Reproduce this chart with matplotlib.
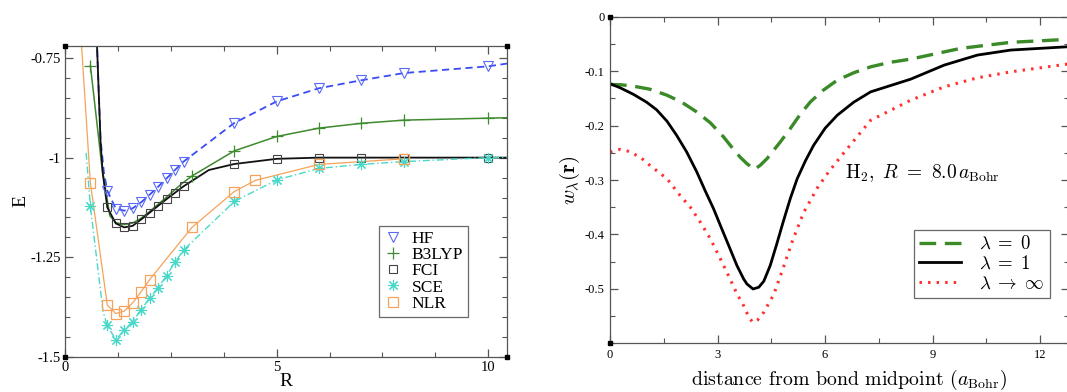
import numpy as np
import matplotlib
matplotlib.use("Agg")
import matplotlib.pyplot as plt
from matplotlib.ticker import MultipleLocator, FormatStrFormatter

plt.rcParams["font.family"] = ["Liberation Serif", "DejaVu Serif"]
plt.rcParams["mathtext.fontset"] = "cm"
plt.rcParams["axes.unicode_minus"] = False

# ---- left panel: dissociation curves of H2 ----
r_hf = [1.0, 1.2, 1.4, 1.6, 1.8, 2.0, 2.2, 2.4, 2.6, 2.8, 4, 5, 6, 7, 8, 10]
e_hf = [-1.083, -1.128, -1.133, -1.127, -1.112, -1.093, -1.073, -1.052, -1.031, -1.010,
        -0.913, -0.859, -0.826, -0.806, -0.788, -0.771]
r_hf_extra = [0.75, 0.84, 0.92, 10.45]
e_hf_extra = [-0.70, -0.954, -1.0375, -0.764]

r_b3 = [0.6, 3, 4, 5, 6, 7, 8, 10]
e_b3 = [-0.769, -1.046, -0.983, -0.947, -0.926, -0.914, -0.906, -0.901]
r_b3_extra = [0.87, 1.06, 1.2, 1.4, 1.6, 1.8, 2.0, 2.2, 2.4, 2.6, 2.8, 10.45]
e_b3_extra = [-1.021, -1.146, -1.163, -1.168, -1.164, -1.152, -1.135, -1.117, -1.099,
              -1.080, -1.062, -0.900]

r_fci = [1.0, 1.2, 1.4, 1.6, 1.8, 2.0, 2.2, 2.4, 2.6, 2.8, 4, 5, 6, 7, 8, 10]
e_fci = [-1.125, -1.165, -1.175, -1.171, -1.155, -1.138, -1.121, -1.104, -1.088, -1.072,
         -1.016, -1.003, -1.000, -1.000, -1.000, -1.000]
r_fci_extra = [0.75, 0.84, 0.89, 3.4, 10.45]
e_fci_extra = [-0.70, -0.96, -1.0375, -1.031, -1.000]

r_sce = [0.6, 1.0, 1.2, 1.4, 1.6, 1.8, 2.0, 2.2, 2.4, 2.6, 2.8, 4, 5, 6, 7, 8, 10]
e_sce = [-1.122, -1.421, -1.457, -1.432, -1.411, -1.381, -1.352, -1.326, -1.296, -1.262,
         -1.232, -1.110, -1.056, -1.027, -1.017, -1.010, -1.000]
r_sce_extra = [0.5, 0.79, 0.9, 10.45]
e_sce_extra = [-0.988, -1.29, -1.387, -0.999]

r_nlr = [0.6, 1.0, 1.2, 1.4, 1.6, 1.8, 2.0, 3.0, 4.0, 4.5, 6.0, 8.0]
e_nlr = [-1.063, -1.370, -1.391, -1.385, -1.364, -1.336, -1.306, -1.175, -1.085, -1.057,
         -1.017, -1.003]
r_nlr_extra = [0.38]
e_nlr_extra = [-0.70]

# ---- right panel: w_lambda(r) along the bond, R = 8 ----
x_l0 = [0, 0.3, 0.65, 1.1, 1.59, 2.0, 2.42, 2.8, 3.17, 3.4, 3.63, 3.82, 4.03, 4.19, 4.38,
        4.57, 4.75, 5.03, 5.3, 5.59, 5.95, 6.34, 6.8, 7.27, 7.8, 8.39, 9.78, 11.18, 12.77]
w_l0 = [-0.1245, -0.125, -0.1276, -0.133, -0.1442, -0.157, -0.175, -0.195, -0.221, -0.240,
        -0.258, -0.270, -0.2805, -0.273, -0.2608, -0.245, -0.2302, -0.2055, -0.180, -0.1565,
        -0.135, -0.1166, -0.103, -0.0921, -0.084, -0.0779, -0.0582, -0.0471, -0.0416]

x_l1 = [0, 0.28, 0.65, 1.02, 1.3, 1.59, 1.86, 2.14, 2.42, 2.65, 2.89, 3.12, 3.35, 3.54,
        3.73, 3.82, 3.99, 4.15, 4.29, 4.47, 4.65, 4.84, 5.03, 5.22, 5.45, 5.68, 6.0, 6.34,
        6.8, 7.27, 8.39, 9.32, 10.25, 11.18, 12.77]
w_l1 = [-0.123, -0.1305, -0.1425, -0.157, -0.171, -0.192, -0.218, -0.2486, -0.285, -0.319,
        -0.353, -0.390, -0.4265, -0.457, -0.482, -0.491, -0.5002, -0.497, -0.486, -0.457,
        -0.418, -0.375, -0.334, -0.298, -0.265, -0.2363, -0.205, -0.181, -0.157, -0.1381,
        -0.1147, -0.089, -0.0705, -0.0613, -0.0552]

x_inf = [0, 0.28, 0.5, 0.84, 1.11, 1.59, 1.95, 2.24, 2.52, 2.8, 3.08, 3.35, 3.54, 3.73,
         3.88, 3.99, 4.12, 4.29, 4.57, 4.84, 5.1, 5.4, 5.78, 6.1, 6.5, 7.27, 8.39, 9.32,
         10.25, 11.18, 12.77]
w_inf = [-0.2486, -0.2437, -0.247, -0.2578, -0.273, -0.2976, -0.328, -0.3499, -0.3775,
         -0.408, -0.445, -0.4818, -0.509, -0.531, -0.553, -0.5617, -0.557, -0.543, -0.51,
         -0.46, -0.41, -0.36, -0.315, -0.285, -0.252, -0.1903, -0.1534, -0.1289, -0.1123,
         -0.1013, -0.087]

grey = "#555555"


def merged(r, e, r_extra, e_extra):
    rr = np.array(list(r) + list(r_extra))
    ee = np.array(list(e) + list(e_extra))
    idx = np.argsort(rr)
    return rr[idx], ee[idx]


def style_axes(ax):
    for s in ax.spines.values():
        s.set_color(grey)
        s.set_linewidth(0.9)
    ax.tick_params(which="both", direction="in", top=True, right=True, color=grey)
    ax.tick_params(which="major", length=6, width=0.9)
    ax.tick_params(which="minor", length=3.5, width=0.8)


def corner_marks(ax, corners):
    for cx, cy in corners:
        ax.plot(cx, cy, marker="s", ms=3.5, color="black", transform=ax.transAxes,
                clip_on=False, zorder=10)


fig = plt.figure(figsize=(10.67, 3.92), dpi=100)

# ---------- left ----------
ax1 = fig.add_axes([0.0609, 0.0893, 0.4146, 0.7934])
c_hf, c_b3, c_fci, c_sce, c_nlr = "#3a4cf5", "#3e8a2e", "#111111", "#48d8c8", "#f5a35a"

x, y = merged(r_hf, e_hf, r_hf_extra, e_hf_extra)
ax1.plot(x, y, color=c_hf, lw=1.3, ls=(0, (4, 2.5)))
x, y = merged(r_b3, e_b3, r_b3_extra, e_b3_extra)
ax1.plot(x, y, color=c_b3, lw=1.1)
x, y = merged(r_fci, e_fci, r_fci_extra, e_fci_extra)
ax1.plot(x, y, color=c_fci, lw=1.3)
x, y = merged(r_sce, e_sce, r_sce_extra, e_sce_extra)
ax1.plot(x, y, color=c_sce, lw=1.0, ls=(0, (5, 2, 1, 2)))
x, y = merged(r_nlr, e_nlr, r_nlr_extra, e_nlr_extra)
ax1.plot(x, y, color=c_nlr, lw=0.9)

ax1.plot(r_hf, e_hf, ls="none", marker="v", ms=7, mfc="none", mec="#5a6af5", mew=0.8, label="HF")
ax1.plot(r_b3, e_b3, ls="none", marker="+", ms=8, mec=c_b3, mew=0.9, label="B3LYP")
ax1.plot(r_fci, e_fci, ls="none", marker="s", ms=6, mfc="none", mec="#444444", mew=0.8, label="FCI")
ax1.plot(r_sce, e_sce, ls="none", marker=(8, 2, 0), ms=8, mec=c_sce, mew=0.8, label="SCE")
ax1.plot(r_nlr, e_nlr, ls="none", marker="s", ms=7, mfc="none", mec=c_nlr, mew=0.9, label="NLR")

ax1.set_xlim(0, 10.45)
ax1.set_ylim(-1.5, -0.72)
ax1.xaxis.set_major_locator(MultipleLocator(5))
ax1.xaxis.set_minor_locator(MultipleLocator(1.25))
ax1.yaxis.set_major_locator(MultipleLocator(0.25))
ax1.yaxis.set_minor_locator(MultipleLocator(0.05))
ax1.xaxis.set_major_formatter(FormatStrFormatter("%g"))
ax1.yaxis.set_major_formatter(FormatStrFormatter("%g"))
style_axes(ax1)
ax1.tick_params(labelsize=10.5, pad=3)
ax1.set_xlabel("R", fontsize=14, labelpad=-1)
ax1.set_ylabel("E", fontsize=14, labelpad=1)
leg = ax1.legend(loc="lower right", bbox_to_anchor=(0.912, 0.129), fontsize=12.5,
                 frameon=True, fancybox=False, edgecolor="#444444", handlelength=1.0,
                 handletextpad=0.6, labelspacing=0.0, borderpad=0.3, borderaxespad=0)
leg.get_frame().set_linewidth(0.9)
corner_marks(ax1, [(0, 0), (1, 0), (0, 1), (1, 1)])

# ---------- right ----------
ax2 = fig.add_axes([0.5717, 0.1242, 0.4300, 0.8332])
ax2.plot(x_l0, w_l0, color="#3a8a28", lw=2.4, ls=(0, (5, 2.6)), label=r"$\lambda\;=\;0$")
ax2.plot(x_l1, w_l1, color="black", lw=2.0, label=r"$\lambda\;=\;1$")
ax2.plot(x_inf, w_inf, color="#ff3030", lw=2.2, ls=(0, (0.8, 2.0)),
         label=r"$\lambda\;\to\;\infty$")
ax2.set_xlim(0, 12.8)
ax2.set_ylim(-0.6, 0)
ax2.xaxis.set_major_locator(MultipleLocator(3))
ax2.xaxis.set_minor_locator(MultipleLocator(1.5))
ax2.yaxis.set_major_locator(MultipleLocator(0.1))
ax2.yaxis.set_minor_locator(MultipleLocator(0.05))
ax2.set_yticks([0, -0.1, -0.2, -0.3, -0.4, -0.5])
ax2.xaxis.set_major_formatter(FormatStrFormatter("%g"))
ax2.yaxis.set_major_formatter(FormatStrFormatter("%g"))
style_axes(ax2)
ax2.tick_params(labelsize=9, pad=4)
ax2.set_xlabel(r"distance from bond midpoint ($a_{\mathrm{Bohr}}$)", fontsize=14.3,
               family="cmr10", labelpad=5)
ax2.xaxis.label.set_x(0.521)
ax2.set_ylabel(r"$w_\lambda(\mathbf{r})$", fontsize=15, labelpad=2)
ax2.text(6.55, -0.288, r"$\mathrm{H}_2,\ R\ =\ 8.0\,a_{\mathrm{Bohr}}$", fontsize=14,
         va="center", ha="left")
leg2 = ax2.legend(loc="lower right", bbox_to_anchor=(0.959, 0.139), fontsize=13.5,
                  frameon=True, fancybox=False, edgecolor="#444444", handlelength=2.2,
                  handletextpad=1.0, labelspacing=0.12, borderpad=0.3, borderaxespad=0)
leg2.get_frame().set_linewidth(0.9)
corner_marks(ax2, [(0, 0), (0, 1)])

fig.savefig("out.png", dpi=100)
